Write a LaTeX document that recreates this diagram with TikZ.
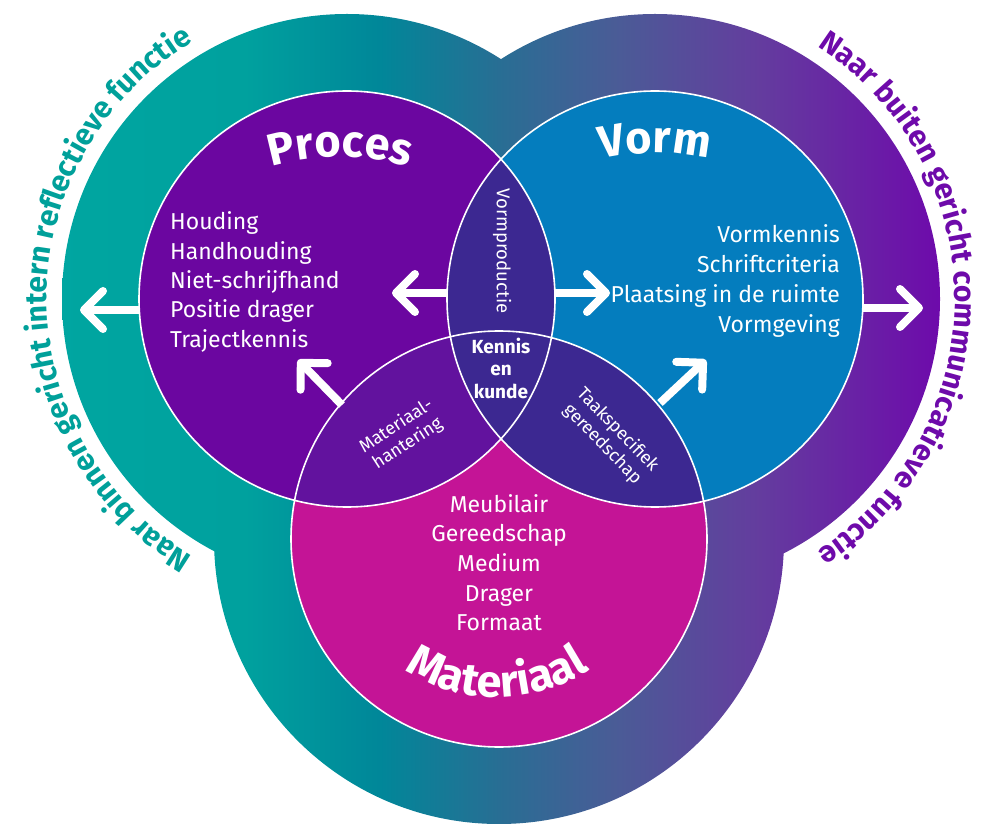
\documentclass[tikz,border=0pt]{standalone}
\usepackage{fontspec}
\setmainfont{Fira Sans}
\usetikzlibrary{arrows.meta,decorations.text}
\definecolor{procescol}{RGB}{107,6,160}
\definecolor{vormcol}{RGB}{4,125,190}
\definecolor{matcol}{RGB}{196,20,150}
\definecolor{lensdark}{RGB}{60,40,145}
\definecolor{lenspm}{RGB}{98,18,158}
\definecolor{tealtext}{RGB}{0,160,154}
\definecolor{purpletext}{RGB}{110,10,170}
\pgfdeclarehorizontalshading{outergrad}{100bp}{rgb(0bp)=(0,0.65,0.63); rgb(25bp)=(0,0.65,0.63); rgb(35.5bp)=(0,0.63,0.62); rgb(43bp)=(0,0.53,0.6); rgb(50bp)=(0.16,0.43,0.58); rgb(56.5bp)=(0.29,0.36,0.59); rgb(64.5bp)=(0.39,0.24,0.62); rgb(75bp)=(0.43,0.04,0.67); rgb(100bp)=(0.43,0.04,0.67)}
\newcommand\ttlfont{\fontsize{45}{45}\selectfont\bfseries}
\newcommand\outfont{\fontsize{30}{30}\selectfont\bfseries}
\begin{document}
\begin{tikzpicture}[x=1pt,y=1pt,
  ring/.style={draw=white, line width=1.6pt},
  flow/.style={draw=white, line width=8pt, -{Straight Barb[length=19pt,width=38pt,round]}},
  listtext/.style={text=white, inner sep=0pt, font=\fontsize{23}{29}\selectfont},
  lenslabel/.style={text=white, inner sep=0pt, align=center, font=\fontsize{18.5}{20}\selectfont},
  ]
\useasboundingbox (0,0) rectangle (1001,823);
\coordinate (P) at (347,524);
\coordinate (V) at (655,524);
\coordinate (M) at (499,284);
% outer ring
\shade[shading=outergrad] (P) circle (285pt) (V) circle (285pt) (M) circle (285pt);
% inner circles
\fill[procescol] (P) circle (208pt);
\fill[vormcol] (V) circle (208pt);
\fill[matcol] (M) circle (208pt);
\begin{scope}
  \clip (P) circle (208pt);
  \fill[lensdark] (V) circle (208pt);
  \fill[lenspm] (M) circle (208pt);
\end{scope}
\begin{scope}
  \clip (V) circle (208pt);
  \fill[lensdark] (M) circle (208pt);
\end{scope}
\begin{scope}
  \clip (P) circle (208pt);
  \clip (V) circle (208pt);
  \fill[lensdark] (M) circle (208pt);
\end{scope}
\draw[ring] (P) circle (208pt) (V) circle (208pt) (M) circle (208pt);
% arrows
\coordinate (a1s) at (140,513); \coordinate (a1e) at (80,513);
\coordinate (a2s) at (447,530); \coordinate (a2e) at (392,530);
\coordinate (a3s) at (555,530); \coordinate (a3e) at (610,530);
\coordinate (a4s) at (863,515); \coordinate (a4e) at (923,515);
\coordinate (a5s) at (342,418); \coordinate (a5e) at (298,463);
\coordinate (a6s) at (660,420); \coordinate (a6e) at (706,463);
\draw[flow] (a1s) -- (a1e);
\draw[flow] (a2s) -- (a2e);
\draw[flow] (a3s) -- (a3e);
\draw[flow] (a4s) -- (a4e);
\draw[flow] (a5s) -- (a5e);
\draw[flow] (a6s) -- (a6e);
% titles
\path[decorate, decoration={text along path, text align=center, text color=white, text={|\ttlfont|Proces}}]
  (340,426) ++(115:240pt) arc[start angle=115, end angle=65, radius=240pt];
\path[decorate, decoration={text along path, text align=center, text color=white, text={|\ttlfont|Vorm}}]
  (655,430) ++(115:240pt) arc[start angle=115, end angle=65, radius=240pt];
\path[decorate, decoration={text along path, text align=center, text color=white, text={|\ttlfont|Materiaal}}]
  (497,296) ++(225:170pt) arc[start angle=225, end angle=315, radius=170pt];
% outer texts
\path[decorate, decoration={text along path, text align=center, text color=tealtext, text={|\outfont|Naar binnen gericht intern reflectieve functie}}]
  (P) ++(250:300pt) arc[start angle=250, end angle=110, radius=300pt];
\path[decorate, decoration={text along path, text align=center, text color=purpletext, text={|\outfont|Naar buiten gericht communicatieve functie}}]
  (V) ++(65:300pt) arc[start angle=65, end angle=-65, radius=300pt];
% lists
\foreach \t [count=\i] in {Houding,Handhouding,Niet-schrijfhand,Positie drager,Trajectkennis}
  \node[listtext, anchor=base west] (pl\i) at (170,{593-29.3*(\i-1)}) {\t};
\foreach \t [count=\i] in {Vormkennis,Schriftcriteria,Plaatsing in de ruimte,Vormgeving}
  \node[listtext, anchor=base east] (vl\i) at (840,{580-30*(\i-1)}) {\t};
\foreach \t [count=\i] in {Meubilair,Gereedschap,Medium,Drager,Formaat}
  \node[listtext, anchor=base] (ml\i) at (499,{311-29.7*(\i-1)}) {\t};
% lens labels
\node[lenslabel, rotate=-90] (vp) at (502,572) {Vormproductie};
\node[lenslabel, font=\bfseries\fontsize{19}{22.5}\selectfont] (kk) at (501,455) {Kennis\\en\\kunde};
\node[lenslabel, rotate=33, font=\fontsize{18}{21}\selectfont] (mh) at (402,388) {Materiaal-\\hantering};
\node[lenslabel, rotate=-46, font=\fontsize{18}{21}\selectfont] (tg) at (610,386) {Taakspecifiek\\gereedschap};
\end{tikzpicture}
\end{document}
